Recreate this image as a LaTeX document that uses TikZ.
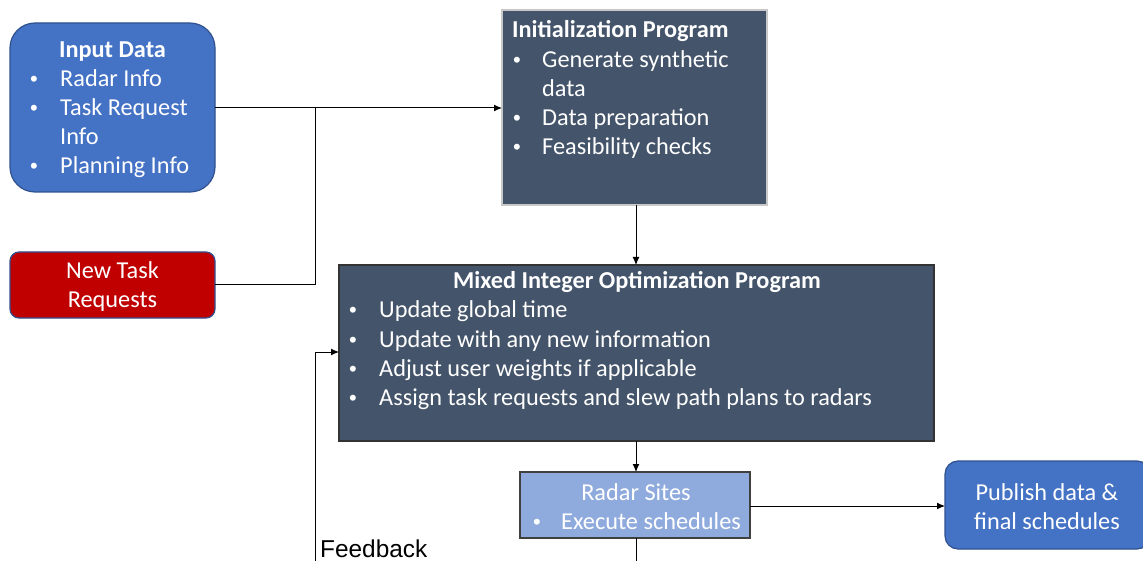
\documentclass[tikz,border=0pt]{standalone}
\usepackage{fontspec}
\setmainfont{Carlito}
\newfontfamily\arialfont{Liberation Sans}
\usetikzlibrary{arrows.meta}
\definecolor{boxblue}{HTML}{4472C4}
\definecolor{borderblue}{HTML}{2F528F}
\definecolor{boxred}{HTML}{C00000}
\definecolor{slate}{HTML}{44546A}
\definecolor{lightblue}{HTML}{8FAADC}
\definecolor{lightgray}{HTML}{C8C8C8}
\tikzset{
  box/.style={inner sep=0pt, outer sep=0pt, anchor=north west},
  txt/.style={font=\fontsize{24.3}{29}\selectfont, text=white, inner sep=0pt, anchor=base west},
  ctxt/.style={font=\fontsize{24.3}{29}\selectfont, text=white, inner sep=0pt, anchor=base},
  bul/.style={font=\arialfont\fontsize{22}{29}\selectfont, text=white, inner sep=0pt, anchor=base},
  conn/.style={draw=black, line width=1pt},
  arr/.style={conn, -{Latex[length=8pt,width=7pt]}},
}
\begin{document}
\begin{tikzpicture}[x=1pt,y=-1pt]
\useasboundingbox (0,0) rectangle (1143,561);
% boxes
\draw[fill=boxblue, draw=borderblue, line width=1.2pt, rounded corners=25pt] (10,23) rectangle (215,192);
\node[box, minimum width=205pt, minimum height=169pt] (input) at (10,23) {};
\draw[fill=boxred, draw=borderblue, line width=1.2pt, rounded corners=9pt] (10,252) rectangle (215,318);
\node[box, minimum width=205pt, minimum height=66pt] (newtask) at (10,252) {};
\node[box, fill=slate, draw=lightgray, line width=2pt, minimum width=265pt, minimum height=195pt] (init) at (502,10) {};
\node[box, fill=slate, draw=black!80, line width=1.2pt, minimum width=595pt, minimum height=176pt] (mio) at (339,265) {};
\node[box, fill=lightblue, draw=black!75, line width=1.2pt, minimum width=230pt, minimum height=66pt] (radar) at (520,472) {};
\draw[fill=boxblue, draw=borderblue, line width=1.2pt, rounded corners=13pt] (945,461) rectangle (1150,549);
\node[box, minimum width=205pt, minimum height=88pt] (publish) at (945,461) {};

% input data text
\node[ctxt] (inh) at (112.5,58) {\textbf{Input Data}};
\node[bul] (inb1) at (34,87) {•};
\node[txt] (in1) at (60,87) {Radar Info};
\node[bul] (inb2) at (34,116) {•};
\node[txt] (in2) at (60,116) {Task Request};
\node[txt] (in3) at (60,145) {Info};
\node[bul] (inb4) at (34,174) {•};
\node[txt] (in4) at (60,174) {Planning Info};

% new task
\node[ctxt] (nt1) at (112.5,279) {New Task};
\node[ctxt] (nt2) at (112.5,308) {Requests};

% init program
\node[txt] (ih) at (512,38) {\textbf{Initialization Program}};
\node[bul] (ib1) at (517,68) {•};
\node[txt] (i1) at (542,68) {Generate synthetic};
\node[txt] (i2) at (542,97) {data};
\node[bul] (ib3) at (517,126) {•};
\node[txt] (i3) at (542,126) {Data preparation};
\node[bul] (ib4) at (517,155) {•};
\node[txt] (i4) at (542,155) {Feasibility checks};

% MIO
\node[ctxt] (mh) at (637,289) {\textbf{Mixed Integer Optimization Program}};
\node[bul] (mb1) at (353,318) {•};
\node[txt] (m1) at (379,318) {Update global time};
\node[bul] (mb2) at (353,347) {•};
\node[txt] (m2) at (379,347) {Update with any new information};
\node[bul] (mb3) at (353,376) {•};
\node[txt] (m3) at (379,376) {Adjust user weights if applicable};
\node[bul] (mb4) at (353,405) {•};
\node[txt] (m4) at (379,405) {Assign task requests and slew path plans to radars};

% radar sites
\node[ctxt] (rh) at (636,500) {Radar Sites};
\node[bul] (rb1) at (537,529) {•};
\node[txt] (r1) at (561,529) {Execute schedules};

% publish
\node[ctxt] (p1) at (1047,500) {Publish data \&};
\node[ctxt] (p2) at (1047,529) {final schedules};

% feedback label
\node[font=\arialfont\fontsize{24.4}{28}\selectfont, inner sep=0pt, anchor=base west] (fb) at (320,557) {Feedback};

% connectors
\coordinate (j1) at (315,108);
\coordinate (j2) at (315,285);
\coordinate (fbot) at (315,561);
\coordinate (fturn) at (315,352);
\coordinate (rbot) at (636,561);
\draw[conn] (input.east |- j1) -- (j1);
\draw[arr] (j1) -- (init.west |- j1);
\draw[conn] (newtask.east |- j2) -- (j2) -- (j1);
\draw[arr] (init.south -| 636,0) -- (mio.north -| 636,0);
\draw[arr] (mio.south -| 636,0) -- (radar.north -| 636,0);
\draw[arr] (radar.east |- 0,506) -- (publish.west |- 0,506);
\draw[conn] (radar.south -| 636,0) -- (rbot);
\draw[arr] (fbot) -- (fturn) -- (mio.west |- fturn);
\end{tikzpicture}
\end{document}
